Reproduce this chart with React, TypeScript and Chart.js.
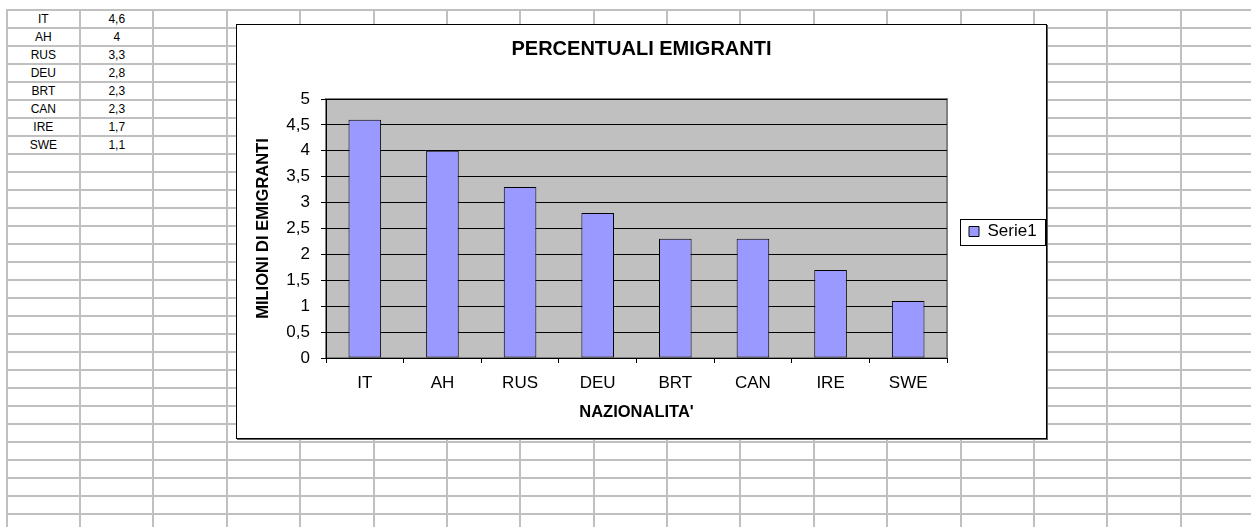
import React, { useEffect, useRef } from 'react';
import { Chart, registerables } from 'chart.js';

Chart.register(...registerables);

// ---- data ----
const categories = ['IT', 'AH', 'RUS', 'DEU', 'BRT', 'CAN', 'IRE', 'SWE'];
const emigrants = [4.6, 4, 3.3, 2.8, 2.3, 2.3, 1.7, 1.1];
const seriesName = 'Serie1';
const chartTitle = 'PERCENTUALI EMIGRANTI';
const xAxisTitle = "NAZIONALITA'";
const yAxisTitle = 'MILIONI DI EMIGRANTI';
const yMin = 0;
const yMax = 5;
const yStep = 0.5;

const FONT = "'Liberation Sans', Arial, sans-serif";
const fmt = (v: number) => String(v).replace('.', ',');

// spreadsheet geometry (decoration)
const COL_X0 = 6.7;
const COL_W = 73.375;
const ROW_Y0 = 10;
const ROW_H = 18;
const W = 1251;
const H = 527;

const excelLook = {
  id: 'excelLook',
  beforeDraw(chart: any) {
    const { ctx, chartArea: a } = chart;
    ctx.save();
    ctx.fillStyle = '#c0c0c0';
    ctx.fillRect(a.left, a.top, a.right - a.left, a.bottom - a.top);
    ctx.strokeStyle = '#808080';
    ctx.lineWidth = 2;
    ctx.strokeRect(a.left, a.top, a.right - a.left, a.bottom - a.top);
    ctx.restore();
  },
  afterDraw(chart: any) {
    const lg = chart.legend;
    if (!lg || !lg.legendHitBoxes || !lg.legendHitBoxes.length) return;
    const hb = lg.legendHitBoxes[0];
    const { ctx } = chart;
    const cy = hb.top + hb.height / 2;
    ctx.save();
    ctx.strokeStyle = '#000';
    ctx.lineWidth = 1;
    ctx.strokeRect(Math.round(hb.left - 9) + 0.5, Math.round(cy - 13) + 0.5, Math.round(hb.width + 17), 26);
    ctx.restore();
  },
};

function ChartBox() {
  const ref = useRef<HTMLCanvasElement | null>(null);
  useEffect(() => {
    if (!ref.current) return;
    const chart = new Chart(ref.current, {
      type: 'bar',
      data: {
        labels: categories,
        datasets: [
          {
            label: seriesName,
            data: emigrants,
            backgroundColor: '#9999ff',
            borderColor: '#000000',
            borderWidth: 1,
            borderSkipped: false,
            barPercentage: 0.42,
            categoryPercentage: 1,
          },
        ],
      },
      options: {
        responsive: false,
        animation: false,
        devicePixelRatio: 1,
        layout: { padding: 0 },
        plugins: {
          tooltip: { enabled: false },
          title: {
            display: true,
            text: chartTitle,
            color: '#000',
            font: { family: FONT, size: 20, weight: 'bold' },
            padding: { top: 12.5, bottom: 37.5 },
          },
          legend: {
            position: 'right',
            maxWidth: 99,
            labels: {
              boxWidth: 10,
              boxHeight: 10,
              color: '#000',
              font: { family: FONT, size: 17 },
              padding: 22,
            },
          },
        },
        scales: {
          x: {
            type: 'category',
            offset: true,
            grid: {
              display: true,
              drawOnChartArea: false,
              drawTicks: true,
              tickLength: 5,
              color: '#000',
              offset: true,
            },
            border: { display: true, color: '#000', width: 1 },
            ticks: {
              color: '#000',
              font: { family: FONT, size: 17 },
              padding: 10,
              maxRotation: 0,
              autoSkip: false,
            },
            title: {
              display: true,
              text: xAxisTitle,
              color: '#000',
              font: { family: FONT, size: 16.5, weight: 'bold' },
              padding: { top: 0, bottom: 16 },
            },
            afterFit: (s: any) => {
              s.height = 80;
            },
          },
          y: {
            min: yMin,
            max: yMax,
            ticks: {
              stepSize: yStep,
              color: '#000',
              font: { family: FONT, size: 17 },
              padding: 11,
              callback: (v: any) => fmt(Number(v)),
            },
            grid: { color: '#000', lineWidth: 1, drawTicks: true, tickLength: 5 },
            border: { display: true, color: '#000', width: 1 },
            title: {
              display: true,
              text: yAxisTitle,
              color: '#000',
              font: { family: FONT, size: 16.5, weight: 'bold' },
              padding: { top: 17, bottom: 0 },
            },
            afterFit: (s: any) => {
              s.width = 89;
            },
          },
        },
      } as any,
      plugins: [excelLook],
    });
    return () => chart.destroy();
  }, []);
  return <canvas ref={ref} width={809} height={413} style={{ display: 'block', width: 809, height: 413 }} />;
}

export default function App() {
  const vLines: number[] = [];
  for (let x = COL_X0; x < W; x += COL_W) vLines.push(x);
  const hLines: number[] = [];
  for (let y = ROW_Y0; y < H; y += ROW_H) hLines.push(y);

  return (
    <div
      style={{
        position: 'absolute',
        left: 0,
        top: 0,
        width: W,
        height: H,
        background: '#fff',
        overflow: 'hidden',
        fontFamily: FONT,
      }}
    >
      {vLines.map((x, i) => (
        <div
          key={'v' + i}
          style={{ position: 'absolute', left: x - 1, top: ROW_Y0 - 1, width: 2, height: H, background: '#c0c0c0' }}
        />
      ))}
      {hLines.map((y, i) => (
        <div
          key={'h' + i}
          style={{ position: 'absolute', left: COL_X0 - 1, top: y - 1, width: W, height: 2, background: '#c0c0c0' }}
        />
      ))}
      {categories.map((c, i) => (
        <React.Fragment key={'r' + i}>
          <div
            style={{
              position: 'absolute',
              left: COL_X0,
              top: ROW_Y0 + i * ROW_H,
              width: COL_W,
              height: ROW_H,
              lineHeight: ROW_H + 'px',
              textAlign: 'center',
              fontSize: 12,
              color: '#000',
            }}
          >
            {c}
          </div>
          <div
            style={{
              position: 'absolute',
              left: COL_X0 + COL_W,
              top: ROW_Y0 + i * ROW_H,
              width: COL_W,
              height: ROW_H,
              lineHeight: ROW_H + 'px',
              textAlign: 'center',
              fontSize: 12,
              color: '#000',
            }}
          >
            {fmt(emigrants[i])}
          </div>
        </React.Fragment>
      ))}
      <div
        style={{
          position: 'absolute',
          left: 236,
          top: 24,
          width: 811,
          height: 415,
          boxSizing: 'border-box',
          border: '1px solid #000',
          background: '#fff',
          boxShadow: '1px 1px 0 #606060',
        }}
      >
        <ChartBox />
      </div>
    </div>
  );
}
